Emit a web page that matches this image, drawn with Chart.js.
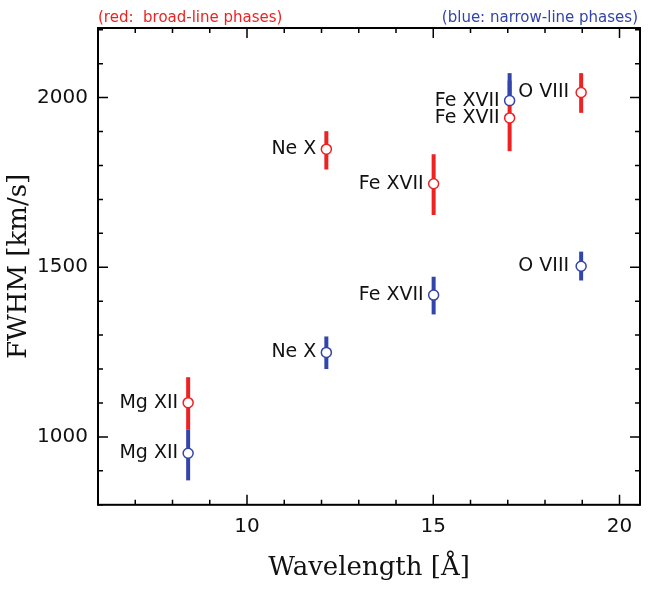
<!DOCTYPE html>
<html><head><meta charset="utf-8">
<script src="https://cdn.jsdelivr.net/npm/chart.js@4"></script>
<style>body{margin:0;background:#fff}#wrap{width:660px;height:596px}</style>
</head><body><div id="wrap"><canvas id="c"></canvas></div>
<script>
// data
const lines = ['Mg XII', 'Ne X', 'Fe XVII', 'Fe XVII', 'O VIII'];
const wavelength = [8.42, 12.13, 15.01, 17.05, 18.97];
const broadFwhm = [1101, 1848, 1746, 1940, 2015];
const broadLow = [1021, 1788, 1654, 1842, 1955];
const broadHigh = [1176, 1901, 1833, 2050, 2072];
const narrowFwhm = [952, 1249, 1418, 1991, 1503];
const narrowLow = [872, 1200, 1361, 1976, 1461];
const narrowHigh = [1021, 1296, 1472, 2072, 1546];

const RED = '#ee2222', BLUE = '#3344aa';

const mk = (ys, lo, hi) => wavelength.map((x, i) => ({ x, y: ys[i], lo: lo[i], hi: hi[i], name: lines[i] }));

// error bars, labels, inward ticks
const extras = {
  id: 'extras',
  afterDatasetsDraw(chart) {
    const { ctx, scales: { x, y }, chartArea: a } = chart;
    ctx.save();
    chart.data.datasets.forEach(ds => {
      ctx.strokeStyle = ds.borderColor; ctx.lineWidth = 4;
      ds.data.forEach(p => {
        const px = x.getPixelForValue(p.x);
        ctx.beginPath(); ctx.moveTo(px, y.getPixelForValue(p.lo)); ctx.lineTo(px, y.getPixelForValue(p.hi)); ctx.stroke();
      });
    });
    chart.data.datasets.forEach(ds => {
      ctx.strokeStyle = ds.borderColor; ctx.lineWidth = 1.5; ctx.fillStyle = '#fff';
      ds.data.forEach(p => {
        ctx.beginPath(); ctx.arc(x.getPixelForValue(p.x), y.getPixelForValue(p.y), 5, 0, Math.PI * 2); ctx.fill(); ctx.stroke();
      });
    });
    ctx.fillStyle = '#111'; ctx.font = '19px "DejaVu Sans"'; ctx.textBaseline = 'middle'; ctx.textAlign = 'right';
    chart.data.datasets.forEach(ds => {
      ds.data.forEach(p => {
        ctx.fillText(p.name, x.getPixelForValue(p.x) - (p.name === 'O VIII' ? 12 : 10), y.getPixelForValue(p.y));
      });
    });
    ctx.strokeStyle = '#000'; ctx.lineWidth = 1.5;
    for (let v = 6; v <= 20.5; v += 1) {
      const px = x.getPixelForValue(v), L = v % 5 === 0 ? 10 : 5;
      ctx.beginPath(); ctx.moveTo(px, a.bottom); ctx.lineTo(px, a.bottom - L);
      ctx.moveTo(px, a.top); ctx.lineTo(px, a.top + L); ctx.stroke();
    }
    for (let v = 800; v <= 2200; v += 100) {
      const py = y.getPixelForValue(v), L = v % 500 === 0 ? 10 : 5;
      ctx.beginPath(); ctx.moveTo(a.left, py); ctx.lineTo(a.left + L, py);
      ctx.moveTo(a.right, py); ctx.lineTo(a.right - L, py); ctx.stroke();
    }
    ctx.lineWidth = 2; ctx.strokeRect(a.left, a.top, a.right - a.left, a.bottom - a.top);
    ctx.font = '15px "DejaVu Sans"'; ctx.textBaseline = 'alphabetic';
    ctx.fillStyle = RED; ctx.textAlign = 'left'; ctx.fillText('(red:  broad-line phases)', 98, 22);
    ctx.fillStyle = BLUE; ctx.textAlign = 'right'; ctx.fillText('(blue: narrow-line phases)', 638, 22);
    ctx.restore();
  }
};

new Chart(document.getElementById('c'), {
  type: 'scatter',
  data: {
    datasets: [
      { label: 'broad', data: mk(broadFwhm, broadLow, broadHigh), borderColor: RED, pointRadius: 0 },
      { label: 'narrow', data: mk(narrowFwhm, narrowLow, narrowHigh), borderColor: BLUE, pointRadius: 0 }
    ]
  },
  options: {
    responsive: true, maintainAspectRatio: false, animation: false,
    layout: { padding: { top: 28, right: 20, bottom: 8 } },
    plugins: { legend: { display: false }, tooltip: { enabled: false } },
    scales: {
      x: {
        min: 6, max: 20.55,
        afterBuildTicks: s => { s.ticks = [10, 15, 20].map(v => ({ value: v })); },
        grid: { display: false, drawTicks: false }, border: { display: false },
        ticks: { color: '#111', font: { size: 20, family: 'DejaVu Sans' }, padding: 10, callback: v => String(v) },
        title: { display: true, text: 'Wavelength [Å]', color: '#111', font: { size: 26, family: 'DejaVu Serif' }, padding: { top: 4 } }
      },
      y: {
        min: 800, max: 2205,
        afterBuildTicks: s => { s.ticks = [1000, 1500, 2000].map(v => ({ value: v })); },
        afterFit: s => { s.width = 98; },
        grid: { display: false, drawTicks: false }, border: { display: false },
        ticks: { color: '#111', font: { size: 20, family: 'DejaVu Sans' }, padding: 10, callback: v => String(v) },
        title: { display: true, text: 'FWHM [km/s]', color: '#111', font: { size: 26, family: 'DejaVu Serif' }, padding: { bottom: 4 } }
      }
    }
  },
  plugins: [extras]
});
</script></body></html>
